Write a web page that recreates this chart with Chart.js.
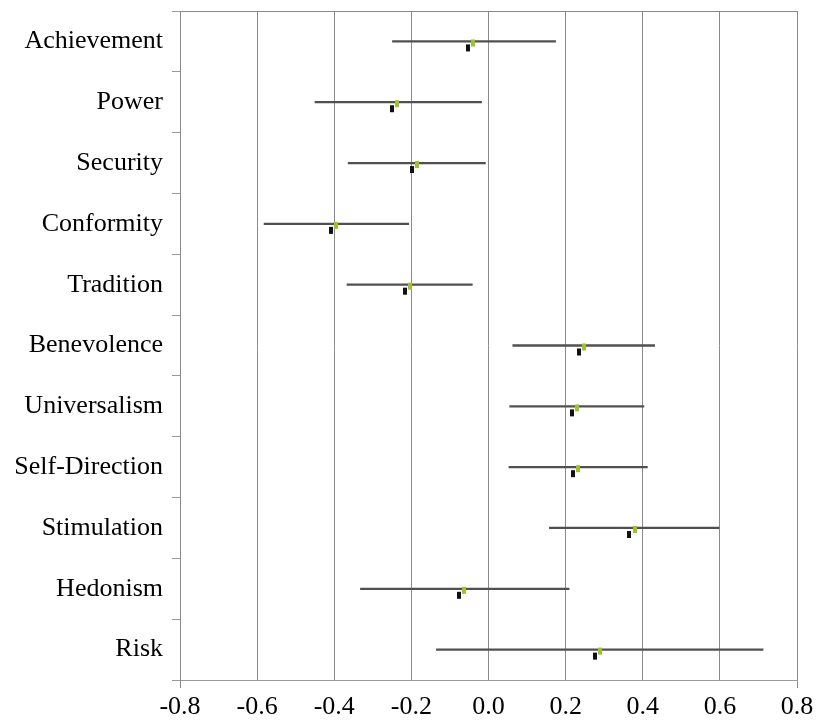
<!DOCTYPE html>
<html>
<head>
<meta charset="utf-8">
<script src="https://cdn.jsdelivr.net/npm/chart.js@4.4.1/dist/chart.umd.min.js"></script>
<style>
  html, body { margin: 0; padding: 0; background: #fff; }
  #wrap { width: 817px; height: 728px; }
</style>
</head>
<body>
<div id="wrap"><canvas id="c" width="817" height="728"></canvas></div>
<script>
const categories = ['Achievement','Power','Security','Conformity','Tradition','Benevolence','Universalism','Self-Direction','Stimulation','Hedonism','Risk'];
const ciLow  = [-0.249,-0.450,-0.364,-0.582,-0.367,0.063,0.055,0.053,0.158,-0.332,-0.135];
const ciHigh = [0.174,-0.018,-0.008,-0.207,-0.042,0.431,0.403,0.412,0.598,0.209,0.712];
const greenValues = [-0.039,-0.236,-0.185,-0.396,-0.204,0.248,0.229,0.232,0.379,-0.063,0.288];
const blackValues = [-0.052,-0.249,-0.199,-0.409,-0.217,0.234,0.216,0.219,0.364,-0.076,0.275];
const xTicks = [-0.8,-0.6,-0.4,-0.2,0.0,0.2,0.4,0.6,0.8];

function markerCanvas(color, w, h, top, mh) {
  const cv = document.createElement('canvas');
  cv.width = w; cv.height = h;
  const g = cv.getContext('2d');
  g.fillStyle = color;
  g.fillRect(0, top, w, mh);
  return cv;
}
const greenMarker = markerCanvas('#9cc32c', 4, 14, 5, 7);
const blackMarker = markerCanvas('#111111', 4, 28, 17, 7);

const FONT = { family: "'Liberation Serif', 'Times New Roman', serif", size: 26 };

new Chart(document.getElementById('c'), {
  type: 'bar',
  data: {
    labels: categories,
    datasets: [
      {
        type: 'line',
        label: 'black',
        data: blackValues,
        showLine: false,
        pointStyle: blackMarker,
        indexAxis: 'y',
        order: 2
      },
      {
        type: 'line',
        label: 'green',
        data: greenValues,
        showLine: false,
        pointStyle: greenMarker,
        indexAxis: 'y',
        order: 1
      },
      {
        type: 'bar',
        label: 'ci',
        data: categories.map((c, i) => [ciLow[i], ciHigh[i]]),
        backgroundColor: '#505050',
        borderWidth: 0,
        barThickness: 1.6,
        indexAxis: 'y',
        order: 3
      }
    ]
  },
  options: {
    indexAxis: 'y',
    responsive: false,
    animation: false,
    layout: { padding: { top: 11, right: 20, left: 0, bottom: 0 } },
    plugins: { legend: { display: false }, tooltip: { enabled: false } },
    scales: {
      x: {
        type: 'linear',
        position: 'bottom',
        min: -0.8, max: 0.8,
        afterBuildTicks: (s) => { s.ticks = xTicks.map(v => ({ value: v })); },
        afterFit: (s) => { s.height = 48; s.paddingLeft = 0; s.paddingRight = 0; },
        grid: {
          color: '#8a8a8a',
          lineWidth: 1,
          tickLength: 8,
          tickColor: (ctx) => (ctx.index === 0 || ctx.index === xTicks.length - 1) ? '#8a8a8a' : 'rgba(0,0,0,0)'
        },
        border: { display: true, color: '#9a9a9a', width: 1 },
        ticks: {
          color: '#000',
          font: FONT,
          padding: 4,
          maxRotation: 0,
          callback: (v) => (Math.abs(v) < 1e-9 ? 0 : v).toFixed(1)
        }
      },
      xTop: {
        type: 'linear',
        position: 'top',
        min: -0.8, max: 0.8,
        afterFit: (s) => { s.height = 0; s.paddingLeft = 0; s.paddingRight = 0; },
        grid: { display: false },
        border: { display: true, color: '#8a8a8a', width: 1 },
        ticks: { display: false }
      },
      y: {
        type: 'category',
        position: 'left',
        offset: true,
        afterFit: (s) => { s.width = 180; s.paddingTop = 0; s.paddingBottom = 0; },
        grid: {
          offset: true,
          drawOnChartArea: false,
          tickLength: 8,
          color: '#9a9a9a'
        },
        border: { display: true, color: '#8a8a8a', width: 1 },
        ticks: { color: '#000', font: FONT, padding: 9 }
      }
    }
  }
});
</script>
</body>
</html>
